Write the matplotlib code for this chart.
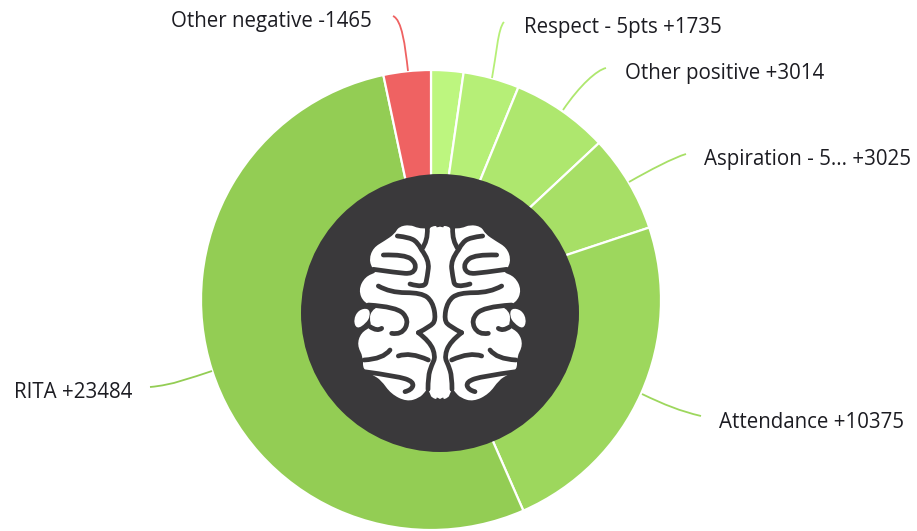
import matplotlib
matplotlib.use("Agg")
import matplotlib.pyplot as plt
from matplotlib.path import Path
from matplotlib.patches import PathPatch, Circle

names = ["", "Respect - 5pts", "Other positive", "Aspiration - 5...", "Attendance", "RITA", "Other negative"]
values = [1000, 1735, 3014, 3025, 10375, 23484, -1465]
colors = ["#bdf67f", "#b6ef77", "#aee76e", "#a7df66", "#9dd75d", "#93cd54", "#ef6262"]

W, H = 917, 531
# label anchors in image pixels (left edge, vertical centre)
label_pos = [None, (524, 28), (625, 73), (704, 160), (719, 422), (14, 392), (171, 21)]
# leader curves in image pixels
leaders = [
    None,
    [(504, 22), (498, 28), (496, 57), (492, 78)],
    [(606, 68), (597, 70), (580, 85), (563, 110)],
    [(686, 154), (673, 158), (650, 170), (629, 182)],
    [(642, 394), (665, 405), (680, 411), (701, 416)],
    [(150, 387), (173, 385), (190, 378), (212, 371)],
    [(393, 16), (402, 20), (405, 45), (408, 71)],
]

# brain icon, left half, in 3x crop coordinates; mirrored about x = 450
brain_lobes = [
    [(450, 198), (425, 198), (416, 210), (410, 205), (385, 205), (360, 194), (326, 200), (314, 222),
     (283, 243), (250, 263), (237, 298), (248, 328), (262, 336), (225, 350), (205, 390), (222, 430), (265, 440),
     (245, 452), (238, 475), (245, 500), (213, 518), (201, 555), (220, 592), (218, 628), (248, 645),
     (273, 660), (303, 702), (350, 725), (388, 714), (406, 695), (412, 685), (420, 700), (425, 714), (450, 720)],
    [(236, 444), (205, 450), (190, 480), (200, 508), (228, 490), (241, 468)],
]
brain_strokes = [
    [(322, 228), (360, 232), (385, 250), (392, 265)],
    [(412, 205), (414, 242), (395, 268)],
    [(280, 285), (345, 283), (380, 310), (370, 342), (320, 338), (250, 328)],
    [(395, 270), (418, 300), (412, 350), (404, 385), (360, 372)],
    [(265, 378), (300, 398), (395, 398), (428, 425), (438, 480), (420, 500), (385, 518)],
    [(385, 518), (420, 545), (437, 590), (425, 615), (414, 650), (414, 688)],
    [(438, 480), (437, 590)],
    [(235, 435), (320, 440), (358, 480), (335, 525), (305, 520)],
    [(240, 500), (262, 515), (275, 505)],
    [(300, 570), (280, 597), (222, 600)],
    [(325, 588), (360, 575), (415, 600)],
    [(222, 635), (320, 648), (372, 665), (365, 690), (345, 695)],
]

plt.rcParams["font.family"] = "Open Sans"
fig = plt.figure(figsize=(W / 100, H / 100), dpi=100)
ax = fig.add_axes([0, 0, 1, 1])

ax.pie([abs(v) for v in values], colors=colors, startangle=90, counterclock=False,
       center=(431, H - 300), radius=230, frame=False,
       wedgeprops={"edgecolor": "white", "linewidth": 1.6})
ax.set_xlim(0, W)
ax.set_ylim(0, H)
ax.axis("off")


def smooth(pts, closed=False):
    # quadratic segments through the midpoints of the given points
    if closed:
        start = ((pts[-1][0] + pts[0][0]) / 2, (pts[-1][1] + pts[0][1]) / 2)
        verts, codes = [start], [Path.MOVETO]
        seq = pts + [pts[0]]
        for a, b in zip(seq[:-1], seq[1:]):
            verts += [a, ((a[0] + b[0]) / 2, (a[1] + b[1]) / 2)]
            codes += [Path.CURVE3, Path.CURVE3]
        return Path(verts, codes)
    verts, codes = [pts[0]], [Path.MOVETO]
    for a, b in zip(pts[1:-1], pts[2:]):
        verts += [a, ((a[0] + b[0]) / 2, (a[1] + b[1]) / 2)]
        codes += [Path.CURVE3, Path.CURVE3]
    verts[-1] = pts[-1]
    return Path(verts, codes)


def to_px(p, flip=False):
    x = 290 + p[0] / 3
    if flip:
        x = 2 * 440 - x
    return (x, H - (160 + p[1] / 3))


for i, name in enumerate(names):
    if leaders[i]:
        pts = [(x, H - y) for x, y in leaders[i]]
        ax.add_patch(PathPatch(Path(pts, [Path.MOVETO, Path.CURVE4, Path.CURVE4, Path.CURVE4]),
                               fc="none", ec=colors[i], lw=1.3, clip_on=False))
    if name:
        x, y = label_pos[i]
        ax.text(x, H - y, f"{name} {values[i]:+d}", fontsize=14.8, color="#1c1c22",
                ha="left", va="center")

ax.add_patch(Circle((440, H - 313), 139, fc="#3a393b", ec="none", zorder=3))

for flip in (False, True):
    for lobe in brain_lobes:
        pts = [to_px(p, flip) for p in lobe]
        ax.add_patch(PathPatch(smooth(pts, True), fc="white", ec="none", zorder=4))
    # fill the column along the centre line
    pts = [to_px(p, flip) for p in [(451, 200), (424, 205), (424, 705), (451, 717)]]
    ax.add_patch(PathPatch(Path(pts + [pts[0]], closed=True), fc="white", ec="none", zorder=4))
    for stroke in brain_strokes:
        pts = [to_px(p, flip) for p in stroke]
        ax.add_patch(PathPatch(smooth(pts), fc="none", ec="#3a393b", lw=3.4, capstyle="round",
                               joinstyle="round", zorder=5))

fig.savefig("out.png", dpi=100)
